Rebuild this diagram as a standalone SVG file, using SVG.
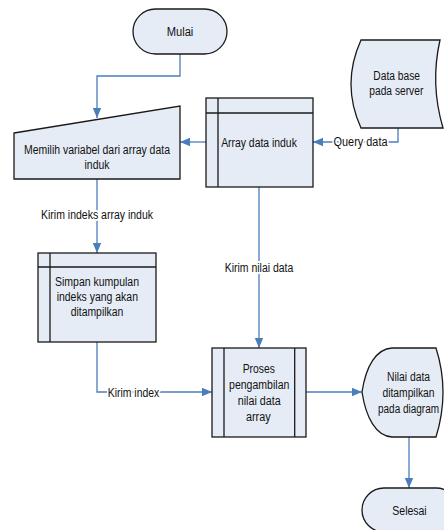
<svg xmlns="http://www.w3.org/2000/svg" width="444" height="530" viewBox="0 0 444 530">
<defs>
<marker id="arr" markerUnits="userSpaceOnUse" markerWidth="10" markerHeight="10" viewBox="0 0 10 10" refX="10" refY="5" orient="auto">
<path d="M0,0.8 L10,5 L0,9.2 Z" fill="#4A7EBB"/>
</marker>
<style>
.shape{fill:#E6ECF6;stroke:#1A1A1A;stroke-width:1.3}
.inner{fill:none;stroke:#1A1A1A;stroke-width:1.3}
.conn{fill:none;stroke:#4A7EBB;stroke-width:1.3}
.arrow{marker-end:url(#arr)}
text{font-family:"Liberation Sans",Arial,sans-serif;font-size:12.5px;fill:#111111;text-anchor:middle}
.lbl{stroke:#FFFFFF;stroke-width:4;paint-order:stroke}
</style>
</defs>
<rect width="444" height="530" fill="#FFFFFF"/>

<g id="connectors">
<path class="conn arrow" d="M180,54 V76 H97 V118"/>
<path class="conn arrow" d="M206,142 H180"/>
<path class="conn arrow" d="M398,128 V142 H313"/>
<path class="conn arrow" d="M97,179 V253"/>
<path class="conn arrow" d="M259,187 V348"/>
<path class="conn arrow" d="M97,342 V392 H212"/>
<path class="conn arrow" d="M306,392 H362"/>
<path class="conn arrow" d="M409,437 V488"/>
<text class="lbl" x="360.5" y="146" textLength="54" lengthAdjust="spacingAndGlyphs">Query  data</text>
<text class="lbl" x="97" y="219" textLength="112" lengthAdjust="spacingAndGlyphs">Kirim indeks array induk</text>
<text class="lbl" x="259" y="271.5" textLength="68.5" lengthAdjust="spacingAndGlyphs">Kirim nilai data</text>
<text class="lbl" x="133.5" y="396.5" textLength="51.5" lengthAdjust="spacingAndGlyphs">Kirim index</text>
</g>

<g id="mulai">
<rect class="shape" x="133" y="9" width="94" height="45" rx="22.5" ry="22.5"/>
<text x="180" y="36" textLength="26.7" lengthAdjust="spacingAndGlyphs">Mulai</text>
</g>

<g id="memilih">
<path class="shape" d="M14,133 L180,106 L180,179 L14,179 Z"/>
<text x="97" y="154" textLength="146" lengthAdjust="spacingAndGlyphs">Memilih variabel dari array data</text>
<text x="97" y="168.5" textLength="25" lengthAdjust="spacingAndGlyphs">induk</text>
</g>

<g id="array-data-induk">
<rect class="shape" x="206" y="98" width="107" height="89"/>
<line class="inner" x1="218" y1="98" x2="218" y2="187"/>
<line class="inner" x1="206" y1="113" x2="313" y2="113"/>
<text x="259" y="146.5" textLength="75.7" lengthAdjust="spacingAndGlyphs">Array data induk</text>
</g>

<g id="database">
<path class="shape" d="M361,40 L440,40 Q430,84 443,128 L361,128 Q341,84 361,40 Z"/>
<text x="396.7" y="80" textLength="46.7" lengthAdjust="spacingAndGlyphs">Data base</text>
<text x="396.3" y="94.5" textLength="54" lengthAdjust="spacingAndGlyphs">pada server</text>
</g>

<g id="simpan">
<rect class="shape" x="38" y="253" width="118" height="89"/>
<line class="inner" x1="50" y1="253" x2="50" y2="342"/>
<line class="inner" x1="38" y1="267" x2="156" y2="267"/>
<text x="97" y="285.7" textLength="84" lengthAdjust="spacingAndGlyphs">Simpan kumpulan</text>
<text x="97.3" y="300.7" textLength="81.3" lengthAdjust="spacingAndGlyphs">indeks yang akan</text>
<text x="97" y="316" textLength="52.6" lengthAdjust="spacingAndGlyphs">ditampilkan</text>
</g>

<g id="proses">
<rect class="shape" x="212" y="348" width="94" height="89"/>
<line class="inner" x1="224" y1="348" x2="224" y2="437"/>
<line class="inner" x1="294.7" y1="348" x2="294.7" y2="437"/>
<text x="258.8" y="373.3" textLength="32.3" lengthAdjust="spacingAndGlyphs">Proses</text>
<text x="259.2" y="389.3" textLength="60.3" lengthAdjust="spacingAndGlyphs">pengambilan</text>
<text x="259.2" y="405.3" textLength="43" lengthAdjust="spacingAndGlyphs">nilai data</text>
<text x="258.3" y="421.3" textLength="24.7" lengthAdjust="spacingAndGlyphs">array</text>
</g>

<g id="display">
<path class="shape" d="M362,392 C366,366 376,349 392,348 L436,348 Q450,392 436,437 L392,437 C376,436 366,418 362,392 Z"/>
<text x="408.5" y="381" textLength="43" lengthAdjust="spacingAndGlyphs">Nilai data</text>
<text x="408.5" y="397" textLength="52" lengthAdjust="spacingAndGlyphs">ditampilkan</text>
<text x="408.5" y="413" textLength="61" lengthAdjust="spacingAndGlyphs">pada diagram</text>
</g>

<g id="selesai">
<rect class="shape" x="362" y="488" width="96" height="44" rx="22" ry="22"/>
<text x="409.5" y="515" textLength="34.4" lengthAdjust="spacingAndGlyphs">Selesai</text>
</g>
</svg>
